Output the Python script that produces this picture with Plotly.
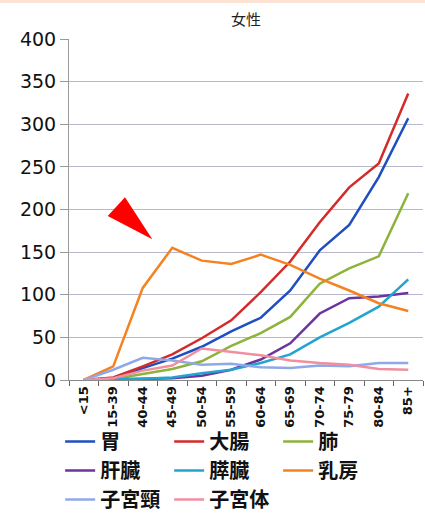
import plotly.graph_objects as go

categories = ["<15", "15-39", "40-44", "45-49", "50-54", "55-59", "60-64",
              "65-69", "70-74", "75-79", "80-84", "85+"]

stomach = [0, 2, 14, 25, 39, 57, 73, 105, 152, 182, 238, 307]          # 胃
colon = [0, 3, 16, 30, 49, 70, 103, 139, 185, 226, 254, 336]           # 大腸
lung = [0, 1, 7, 13, 22, 40, 55, 74, 113, 131, 145, 219]               # 肺
liver = [0, 0.5, 1, 2, 5, 12, 24, 43, 78, 96, 98, 102]                 # 肝臓
pancreas = [0, 0.5, 1.5, 3, 8, 12, 20, 30, 50, 67, 86, 118]            # 膵臓
breast = [0, 16, 108, 155, 140, 136, 147, 135, 119, 105, 90, 81]       # 乳房
cervix = [0, 12, 26, 23, 18, 19, 15, 14, 17, 16, 20, 20]               # 子宮頸
uterus = [0, 2, 11, 17, 37, 33, 29, 23, 20, 18, 13, 12]                # 子宮体

series_names = ["胃", "大腸", "肺", "肝臓", "膵臓", "乳房", "子宮頸", "子宮体"]
series_values = [stomach, colon, lung, liver, pancreas, breast, cervix, uterus]
series_colors = ["#1f4fbf", "#d42a2a", "#8db33a", "#6a35a0", "#22a3d0",
                 "#f58220", "#8fa8e8", "#ef8fa0"]

fig = go.Figure()
for name, vals, col in zip(series_names, series_values, series_colors):
    fig.add_trace(go.Scatter(x=categories, y=vals, name=name, mode="lines",
                             line=dict(color=col, width=2.5)))

W, H = 425, 515
L, R, T, B = 69, 2, 39, 135
pw, ph = W - L - R, H - T - B

def px(x):
    return (x - L) / pw

def py(y):
    return (H - B - y) / ph

tri = [(107.7, 216), (125, 197.3), (152.3, 239.3)]
path = "M {} {} L {} {} L {} {} Z".format(*[v for p in tri for v in (px(p[0]), py(p[1]))])

fig.update_layout(
    width=W, height=H,
    margin=dict(l=L, r=R, t=T, b=B, autoexpand=False),
    paper_bgcolor="white", plot_bgcolor="white",
    font=dict(family="DejaVu Sans", color="#111"),
    title=dict(text="女性", x=px((L + W - R) / 2), xref="paper", xanchor="center",
               y=1 - 20 / H, yref="container", yanchor="middle",
               font=dict(family="Noto Sans CJK JP", size=15, color="#222")),
    xaxis=dict(type="category", tickson="boundaries", ticks="outside", ticklen=5,
               tickcolor="#666", tickangle=-90, showgrid=False, showline=True,
               linecolor="#888", linewidth=1, range=[-0.5, 11.5], automargin=False,
               tickfont=dict(family="DejaVu Sans", size=13, color="#111", weight="bold")),
    yaxis=dict(range=[0, 400], dtick=50, ticks="outside", ticklen=8, tickcolor="#999",
               showgrid=True, gridcolor="#b8b8cc", gridwidth=1, showline=True,
               linecolor="#999", linewidth=1, zeroline=False, automargin=False,
               tickfont=dict(family="DejaVu Sans", size=19, color="#111")),
    legend=dict(orientation="h", x=-0.025, xanchor="left", y=py(422), yanchor="top",
                entrywidth=64, entrywidthmode="pixels", traceorder="normal",
                font=dict(family="Noto Sans CJK JP", size=20, color="#111", weight="bold"),
                bgcolor="rgba(0,0,0,0)", tracegroupgap=0),
    shapes=[
        dict(type="path", path=path, xref="paper", yref="paper",
             fillcolor="#ff0000", line=dict(width=0), layer="above"),
        dict(type="rect", xref="paper", yref="paper", x0=px(0), x1=px(W),
             y0=py(3), y1=py(0), fillcolor="#fde3d3", line=dict(width=0)),
    ],
    showlegend=True,
)

fig.write_html("out.html")
